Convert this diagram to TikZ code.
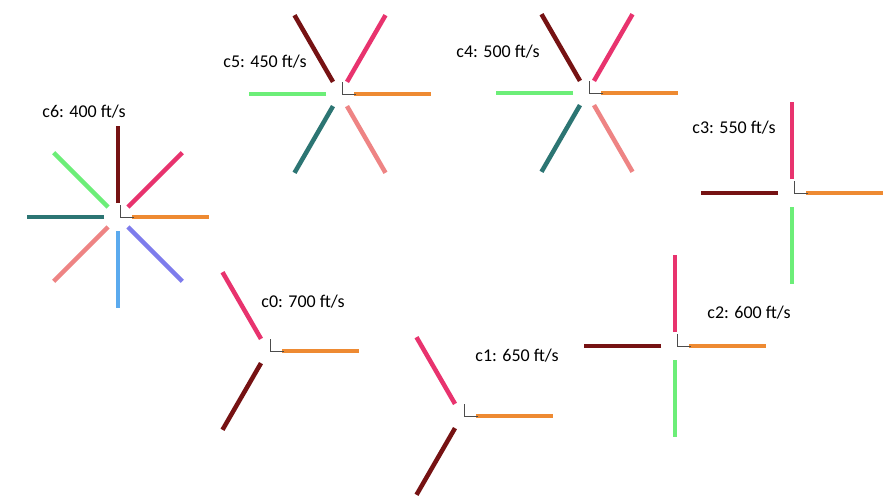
\documentclass[tikz,border=0pt]{standalone}
\usepackage{fontspec}
\setmainfont{Carlito}
\usetikzlibrary{calc}
\definecolor{cMaroon}{HTML}{761213}
\definecolor{cPink}{HTML}{E8336E}
\definecolor{cOrange}{HTML}{EE8A32}
\definecolor{cGreen}{HTML}{6CEE78}
\definecolor{cTeal}{HTML}{2C7573}
\definecolor{cSalmon}{HTML}{EE8484}
\definecolor{cBlue}{HTML}{5BAAEE}
\definecolor{cViolet}{HTML}{7E7CEC}
\tikzset{
  spoke/.style={line width=4.5pt},
  axmark/.style={line width=0.5pt, draw=black!70},
  lbl/.style={font=\fontsize{18}{21}\selectfont, text=black, inner sep=0pt}
}
\newcommand{\myspoke}[3]{\draw[spoke,#3] ($(#1)+(#2:14pt)$) -- ($(#1)+(#2:91pt)$);}
\newcommand{\myaxes}[1]{\draw[axmark] ($(#1)+(2pt,12pt)$) -- ($(#1)+(2pt,0pt)$) -- ($(#1)+(16pt,0pt)$);}
\begin{document}
\begin{tikzpicture}[x=1pt,y=-1pt]
\useasboundingbox[fill=white] (0,0) rectangle (884,496);
% centers
\coordinate (c6) at (118,217);
\coordinate (c5) at (340,94);
\coordinate (c4) at (587,93);
\coordinate (c3) at (792,193);
\coordinate (c2) at (675,346);
\coordinate (c0) at (268,351);
\coordinate (c1) at (462,416);
% labels
\node[lbl] (l6) at (84,112) {c6: 400 ft/s};
\node[lbl] (l5) at (265,62) {c5: 450 ft/s};
\node[lbl] (l4) at (498,52) {c4: 500 ft/s};
\node[lbl] (l3) at (734,128) {c3: 550 ft/s};
\node[lbl] (l2) at (749,313) {c2: 600 ft/s};
\node[lbl] (l0) at (303,302) {c0: 700 ft/s};
\node[lbl] (l1) at (517,356) {c1: 650 ft/s};
% c6
\myspoke{c6}{90}{cMaroon}
\myspoke{c6}{45}{cPink}
\myspoke{c6}{0}{cOrange}
\myspoke{c6}{-45}{cViolet}
\myspoke{c6}{-90}{cBlue}
\myspoke{c6}{-135}{cSalmon}
\myspoke{c6}{180}{cTeal}
\myspoke{c6}{135}{cGreen}
\myaxes{c6}
% c5
\myspoke{c5}{120}{cMaroon}
\myspoke{c5}{60}{cPink}
\myspoke{c5}{0}{cOrange}
\myspoke{c5}{180}{cGreen}
\myspoke{c5}{240}{cTeal}
\myspoke{c5}{300}{cSalmon}
\myaxes{c5}
% c4
\myspoke{c4}{120}{cMaroon}
\myspoke{c4}{60}{cPink}
\myspoke{c4}{0}{cOrange}
\myspoke{c4}{180}{cGreen}
\myspoke{c4}{240}{cTeal}
\myspoke{c4}{300}{cSalmon}
\myaxes{c4}
% c3
\myspoke{c3}{90}{cPink}
\myspoke{c3}{180}{cMaroon}
\myspoke{c3}{0}{cOrange}
\myspoke{c3}{270}{cGreen}
\myaxes{c3}
% c2
\myspoke{c2}{90}{cPink}
\myspoke{c2}{180}{cMaroon}
\myspoke{c2}{0}{cOrange}
\myspoke{c2}{270}{cGreen}
\myaxes{c2}
% c0
\myspoke{c0}{120}{cPink}
\myspoke{c0}{0}{cOrange}
\myspoke{c0}{240}{cMaroon}
\myaxes{c0}
% c1
\myspoke{c1}{120}{cPink}
\myspoke{c1}{0}{cOrange}
\myspoke{c1}{240}{cMaroon}
\myaxes{c1}
\end{tikzpicture}
\end{document}
